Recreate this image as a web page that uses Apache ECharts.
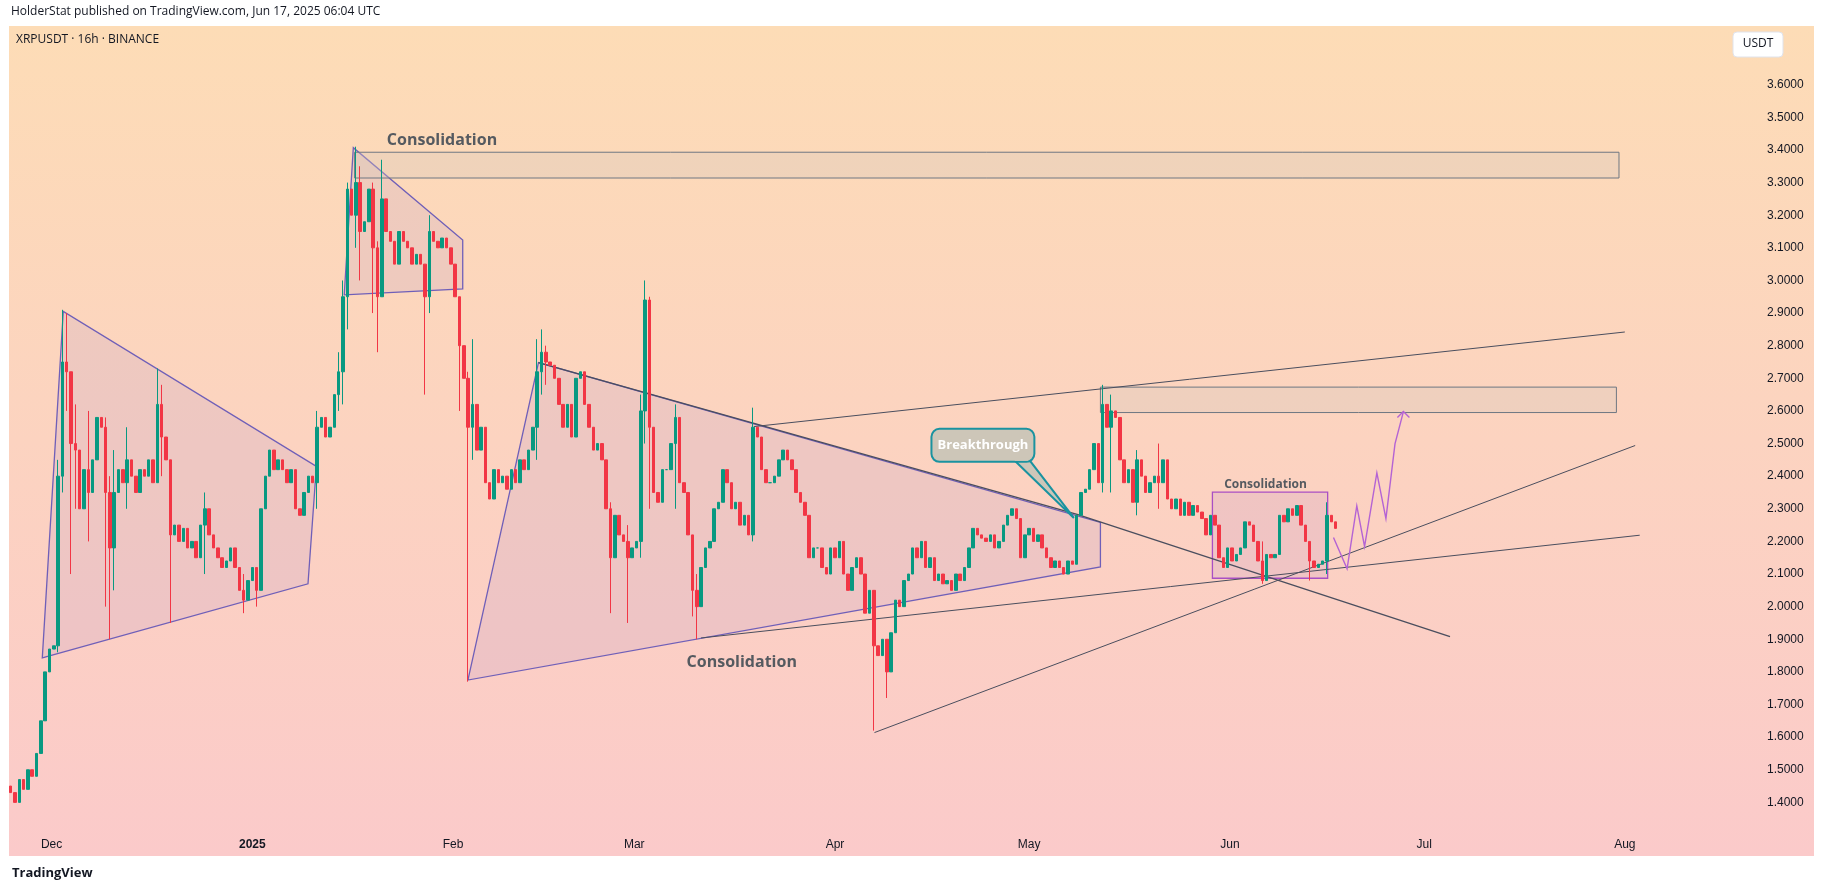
<!DOCTYPE html>
<html><head><meta charset="utf-8">
<script src="https://cdn.jsdelivr.net/npm/echarts@6/dist/echarts.min.js"></script>
<style>html,body{margin:0;padding:0;background:#fff}#c{width:1827px;height:893px}</style>
</head><body><div id="c"></div>
<script>
// ---- data ----
const candleStart = Date.UTC(2024,10,24,16); // first 16h candle
const candleStepHours = 16;
const firstOpen = 1.45;
const closes = [
1.43,1.40,1.47,1.44,1.50,1.48,1.55,1.65,1.80,1.87,
1.88,2.40,2.75,2.72,2.50,2.48,2.30,2.42,2.35,2.45,
2.58,2.55,2.35,2.18,2.35,2.42,2.38,2.45,2.40,2.35,
2.42,2.40,2.45,2.38,2.62,2.52,2.45,2.22,2.25,2.20,
2.24,2.18,2.20,2.15,2.25,2.30,2.22,2.18,2.15,2.12,
2.14,2.18,2.12,2.05,2.02,2.08,2.12,2.05,2.30,2.40,
2.48,2.42,2.45,2.42,2.38,2.42,2.30,2.28,2.35,2.40,
2.38,2.55,2.58,2.52,2.55,2.65,2.72,2.95,3.28,3.20,
3.30,3.15,3.18,3.28,3.10,2.95,3.25,3.15,3.12,3.05,
3.15,3.12,3.10,3.05,3.08,3.05,2.95,3.15,3.12,3.10,
3.13,3.10,3.05,2.95,2.80,2.70,2.55,2.62,2.48,2.55,
2.38,2.33,2.42,2.38,2.40,2.36,2.42,2.38,2.45,2.42,
2.48,2.55,2.72,2.78,2.75,2.74,2.70,2.62,2.55,2.62,
2.52,2.70,2.72,2.62,2.55,2.48,2.50,2.45,2.30,2.15,
2.28,2.22,2.20,2.15,2.18,2.20,2.60,2.94,2.55,2.35,
2.32,2.42,2.42,2.50,2.58,2.38,2.35,2.22,2.05,2.00,
2.12,2.18,2.20,2.30,2.32,2.42,2.38,2.30,2.32,2.25,
2.28,2.22,2.55,2.52,2.42,2.38,2.38,2.40,2.45,2.48,
2.45,2.42,2.35,2.32,2.28,2.15,2.18,2.18,2.12,2.10,
2.18,2.15,2.20,2.10,2.05,2.12,2.15,2.10,1.98,2.05,
1.88,1.85,1.90,1.80,1.92,2.02,2.00,2.08,2.10,2.18,
2.15,2.20,2.12,2.15,2.08,2.10,2.07,2.08,2.05,2.10,
2.08,2.12,2.18,2.24,2.22,2.21,2.20,2.22,2.18,2.20,
2.25,2.28,2.30,2.27,2.15,2.22,2.24,2.20,2.22,2.18,
2.15,2.12,2.14,2.12,2.10,2.14,2.13,2.28,2.35,2.36,
2.42,2.50,2.38,2.62,2.55,2.60,2.58,2.45,2.38,2.42,
2.32,2.45,2.40,2.35,2.38,2.40,2.38,2.45,2.33,2.30,
2.33,2.28,2.32,2.28,2.31,2.29,2.27,2.22,2.28,2.25,
2.15,2.12,2.18,2.14,2.16,2.18,2.26,2.25,2.20,2.14,
2.08,2.16,2.15,2.16,2.28,2.26,2.30,2.28,2.31,2.25,
2.20,2.14,2.12,2.13,2.14,2.28,2.26,2.24];
// [candle index, high, low]
const wicks = [[11,2.45,1.86],[12,2.91,2.35],[13,2.9,2.6],[14,2.72,2.1],[15,2.62,2.3],[18,2.6,2.2],[22,2.58,2.0],[23,2.4,1.90],[24,2.48,2.05],[27,2.55,2.3],[34,2.73,2.38],[35,2.68,2.4],[37,2.45,1.95],[45,2.35,2.1],[54,2.1,1.98],[57,2.12,2.0],[71,2.6,2.3],[76,2.78,2.6],[77,3.0,2.62],[78,3.3,2.85],[80,3.41,3.1],[81,3.35,3.0],[84,3.3,2.9],[85,3.12,2.78],[86,3.37,2.95],[96,3.05,2.65],[97,3.2,2.9],[104,2.95,2.6],[106,2.72,1.77],[107,2.82,2.45],[122,2.82,2.45],[123,2.85,2.65],[124,2.8,2.68],[139,2.32,1.98],[143,2.25,1.95],[146,2.65,2.15],[147,3.0,2.5],[148,2.95,2.3],[154,2.62,2.3],[158,2.2,1.97],[159,2.1,1.90],[172,2.61,2.2],[200,2.0,1.62],[203,1.86,1.72],[253,2.68,2.35],[255,2.65,2.35],[261,2.48,2.28],[266,2.5,2.3],[290,2.2,2.07],[301,2.2,2.08],[305,2.32,2.1]];
const monthTicks = ['2024-12-01','2025-01-01','2025-02-01','2025-03-01','2025-04-01','2025-05-01','2025-06-01','2025-07-01','2025-08-01'];
const monthLabels = ['Dec','2025','Feb','Mar','Apr','May','Jun','Jul','Aug'];
// drawings: points as [days from 2024-12-01, price]
const drawBase = Date.UTC(2024,11,1);
const polygons = [
 [[-1.44,1.843],[1.8,2.905],[40.9,2.43],[39.6,2.07]],
 [[45.2,2.956],[46.6,3.407],[63.5,3.124],[63.5,2.974]],
 [[64.3,1.775],[75.2,2.748],[162,2.258],[162,2.122]]
];
const boxes = [
 [[46.8,3.393],[242.1,3.314]],
 [[162,2.673],[241.7,2.595]]
];
const consBox = [[179.3,2.351],[197.1,2.087]];
const trendLines = [
 [[75.2,2.748],[158.4,2.283],[216,1.908]],
 [[100.3,1.904],[245.3,2.219]],
 [[108.5,2.552],[243,2.842]],
 [[127.1,1.614],[244.6,2.494]]
];
const zigzag = [[198.0,2.212],[200.1,2.116],[201.6,2.309],[202.8,2.184],[204.7,2.41],[206.1,2.27],[207.5,2.499],[208.8,2.598]];
const texts = [
 {t:'Consolidation', p:[60.3,3.43], size:16},
 {t:'Consolidation', p:[106.6,1.83], size:16},
 {t:'Consolidation', p:[187.5,2.375], size:12}
];
const callout = {box:[[135.9,2.545],[151.8,2.444]], tip:[157.9,2.272], text:'Breakthrough'};

// ---- build ----
const wickMap = {}; wicks.forEach(w=>wickMap[w[0]]=w);
const candles = closes.map((c,i)=>{
  const o = i===0?firstOpen:closes[i-1];
  let h=Math.max(o,c), l=Math.min(o,c);
  if(wickMap[i]){h=Math.max(h,wickMap[i][1]);l=Math.min(l,wickMap[i][2]);}
  return [candleStart+i*candleStepHours*3600e3,o,c,l,h];
});
const T = d => drawBase + d*86400e3;
const tickVals = monthTicks.map(d=>Date.parse(d+'T00:00:00Z'));
const chart = echarts.init(document.getElementById('c'));
function pts(api, arr){return arr.map(p=>api.coord([T(p[0]),p[1]]));}
const shapeItems = [];
polygons.forEach((p,i)=>shapeItems.push({k:'poly',i}));
boxes.forEach((b,i)=>shapeItems.push({k:'box',i}));
shapeItems.push({k:'cons'});
trendLines.forEach((l,i)=>shapeItems.push({k:'line',i}));
shapeItems.push({k:'zig'});
texts.forEach((t,i)=>shapeItems.push({k:'text',i}));
shapeItems.push({k:'callout'});

function render(params, api){
  const s = shapeItems[params.dataIndex];
  if(s.k==='poly'){
    return {type:'polygon',shape:{points:pts(api,polygons[s.i])},style:{fill:'rgba(190,160,200,0.22)',stroke:'#6f5fb8',lineWidth:1.3}};
  }
  if(s.k==='box'){
    const [a,b]=pts(api,boxes[s.i]);
    return {type:'rect',shape:{x:a[0],y:a[1],width:b[0]-a[0],height:b[1]-a[1]},style:{fill:'rgba(215,200,190,0.35)',stroke:'#6e7782',lineWidth:1}};
  }
  if(s.k==='cons'){
    const [a,b]=pts(api,consBox);
    return {type:'rect',shape:{x:a[0],y:a[1],width:b[0]-a[0],height:b[1]-a[1]},style:{fill:'rgba(205,160,200,0.25)',stroke:'#a94fc4',lineWidth:1.3}};
  }
  if(s.k==='line'){
    return {type:'polyline',shape:{points:pts(api,trendLines[s.i])},style:{stroke:'#4a4e5e',lineWidth:s.i===0?1.4:1,fill:null}};
  }
  if(s.k==='zig'){
    const P=pts(api,zigzag); const e=P[P.length-1];
    return {type:'group',children:[
      {type:'polyline',shape:{points:P},style:{stroke:'#b463d4',lineWidth:1.4,fill:null}},
      {type:'polyline',shape:{points:[[e[0]-6,e[1]+6],e,[e[0]+6,e[1]+6]]},style:{stroke:'#b463d4',lineWidth:1.4,fill:null}}
    ]};
  }
  if(s.k==='text'){
    const t=texts[s.i]; const p=api.coord([T(t.p[0]),t.p[1]]);
    return {type:'text',x:p[0],y:p[1],style:{text:t.t,fill:'#555a60',font:'bold '+t.size+'px "Open Sans", sans-serif',align:'center',verticalAlign:'middle'}};
  }
  if(s.k==='callout'){
    const [a,b]=pts(api,callout.box); const tip=api.coord([T(callout.tip[0]),callout.tip[1]]);
    const w=b[0]-a[0], h=b[1]-a[1];
    return {type:'group',children:[
      {type:'polygon',shape:{points:[[a[0]+w*0.8,b[1]-2],tip,[a[0]+w*0.95,b[1]-2]]},style:{fill:'#cdc6b8',stroke:'#1a93a0',lineWidth:2}},
      {type:'rect',shape:{x:a[0],y:a[1],width:w,height:h,r:8},style:{fill:'#cdc6b8',stroke:'#1a93a0',lineWidth:2}},
      {type:'rect',shape:{x:a[0]+w*0.8+1,y:b[1]-4,width:w*0.15-2,height:3},style:{fill:'#cdc6b8'}},
      {type:'text',x:a[0]+w/2,y:a[1]+h/2,style:{text:callout.text,fill:'#fff',font:'bold 13px "Open Sans", sans-serif',align:'center',verticalAlign:'middle'}}
    ]};
  }
}

chart.setOption({
  animation:false,
  backgroundColor:'#fff',
  graphic:[
    {type:'rect',z:-10,shape:{x:9,y:26,width:1805,height:830},style:{fill:new echarts.graphic.LinearGradient(0,0,0,1,[{offset:0,color:'#fddcb6'},{offset:1,color:'#fbcaca'}])}},
    {type:'text',left:11,top:6,style:{text:'HolderStat published on TradingView.com, Jun 17, 2025 06:04 UTC',fill:'#131722',font:'12px "Open Sans", sans-serif'}},
    {type:'text',left:16,top:34,style:{text:'XRPUSDT · 16h · BINANCE',fill:'#131722',font:'12px "Open Sans", sans-serif'}},
    {type:'rect',shape:{x:1733,y:32,width:50,height:25,r:4},style:{fill:'#fff',stroke:'#e0e3eb'}},
    {type:'text',x:1758,y:44,style:{text:'USDT',fill:'#131722',font:'12px "Open Sans", sans-serif',align:'center',verticalAlign:'middle'}},
    {type:'text',left:12,top:867,style:{text:'TradingView',fill:'#131722',font:'bold 13px "Open Sans", sans-serif'}}
  ],
  grid:{left:9,right:70,top:26,bottom:58},
  xAxis:{type:'value',min:Date.UTC(2024,10,24,10),max:Date.UTC(2025,7,21,10),
    axisLine:{show:false},axisTick:{show:false},splitLine:{show:false},
    axisLabel:{customValues:tickVals,
      formatter:(v)=>{const i=tickVals.indexOf(v);const t=monthLabels[i]||'';return t==='2025'?'{b|2025}':t;},
      color:'#131722',fontSize:12,margin:4,rich:{b:{fontWeight:'bold',fontSize:12,color:'#131722'}}}},
  yAxis:{type:'value',position:'right',min:1.3,max:3.78,interval:0.1,
    axisLine:{show:false},axisTick:{show:false},splitLine:{show:false},
    axisLabel:{showMinLabel:false,showMaxLabel:false,formatter:v=>(v>3.65||v<1.35)?'':v.toFixed(4),color:'#131722',fontSize:12,margin:10}},
  series:[
    {type:'custom',renderItem:render,data:shapeItems.map((s,i)=>[T(0),2]),z:1,silent:true},
    {type:'candlestick',data:candles.map(c=>[c[0],c[1],c[2],c[3],c[4]]),encode:{x:0,y:[1,2,3,4]},barWidth:3,z:5,
      itemStyle:{color:'#089981',color0:'#f23645',borderColor:'#089981',borderColor0:'#f23645',borderWidth:1}}
  ]
});
</script></body></html>
